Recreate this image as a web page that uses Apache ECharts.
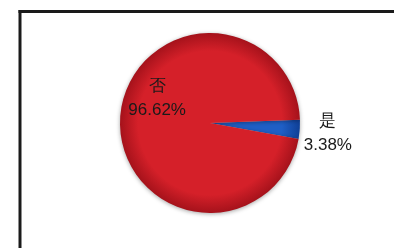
<!DOCTYPE html>
<html>
<head>
<meta charset="utf-8">
<script src="https://cdn.jsdelivr.net/npm/echarts@6/dist/echarts.min.js"></script>
<style>
  html, body { margin: 0; padding: 0; background: #fff; }
  #chart { width: 394px; height: 248px; }
</style>
</head>
<body>
<div id="chart"></div>
<script>
// answers and their shares (%)
const names = ['是', '否'];
const values = [3.38, 96.62];
const colors = ['#1f5fc6', '#d52029'];
const edgeColors = ['#0f3f96', '#a5121b'];

let chart = echarts.init(document.getElementById('chart'));

function shade(i) {
    // global radial gradient so the whole disk gets the same rim darkening
    return {
        type: 'radial', x: 210, y: 123, r: 90, global: true,
        colorStops: [
            { offset: 0, color: colors[i] },
            { offset: 0.8, color: colors[i] },
            { offset: 1, color: edgeColors[i] }
        ]
    };
}

let labelOffsets = [[70, 7], [-5, -21]];

let data = names.map((name, i) => ({
    name: name,
    value: values[i],
    itemStyle: { color: shade(i) },
    label: { offset: labelOffsets[i] }
}));

let option = {
    backgroundColor: '#fff',
    animation: false,
    graphic: [{
        type: 'line',
        shape: { x1: 18.5, y1: 11.5, x2: 394, y2: 11.5 },
        style: { stroke: '#1a1a1a', lineWidth: 3 },
        silent: true
    }, {
        type: 'line',
        shape: { x1: 20, y1: 10, x2: 20, y2: 248 },
        style: { stroke: '#1a1a1a', lineWidth: 3 },
        silent: true
    }],
    series: [{
        type: 'pie',
        center: [210, 123],
        radius: 90,
        startAngle: 2,
        clockwise: true,
        avoidLabelOverlap: false,
        minShowLabelAngle: 0,
        itemStyle: {
            shadowBlur: 4,
            shadowColor: 'rgba(0,0,0,0.35)',
            shadowOffsetY: 1
        },
        label: {
            show: true,
            position: 'inside',
            overflow: 'none',
            formatter: p => p.name + '\n' + p.value.toFixed(2) + '%',
            fontFamily: 'Liberation Sans',
            fontSize: 17,
            lineHeight: 24,
            color: '#1a1a1a'
        },
        labelLine: { show: false },
        emphasis: { disabled: true },
        data: data
    }]
};

chart.setOption(option);
</script>
</body>
</html>
